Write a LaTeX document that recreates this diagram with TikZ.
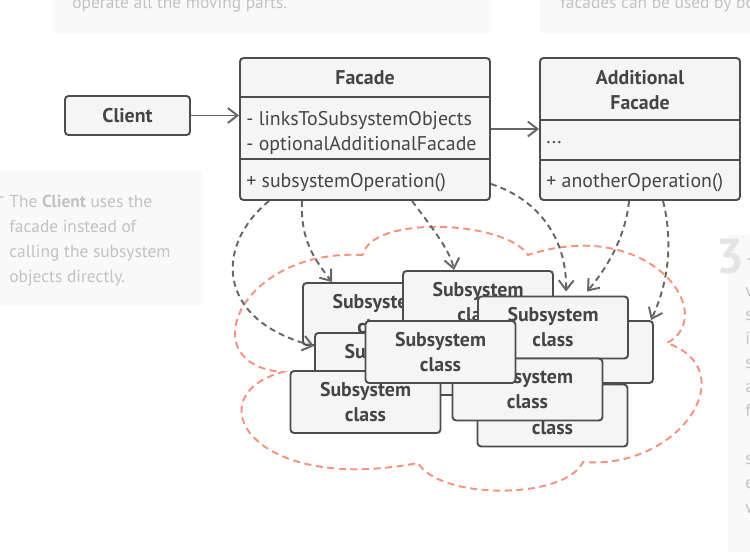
\documentclass[tikz,border=0pt]{standalone}
\usepackage{fontspec}
\setsansfont{PT Sans}
\usepackage{tikz}
\usetikzlibrary{arrows.meta,calc,positioning}
\definecolor{fcdLine}{HTML}{4D4D4D}
\definecolor{fcdFill}{HTML}{F5F5F5}
\definecolor{fcdText}{HTML}{454545}
\definecolor{fcdArrow}{HTML}{666666}
\definecolor{fcdCloud}{HTML}{F8907E}
\definecolor{fcdPanel}{HTML}{F9F9F9}
\definecolor{fcdFaint}{HTML}{C2C2C2}
\definecolor{fcdDigit}{HTML}{E4E4E4}

\begin{document}
\begin{tikzpicture}[x=0.02cm,y=-0.02cm,>=Latex,font=\sffamily]
  \tikzset{
    box/.style={draw=fcdLine,fill=fcdFill,line width=1.1pt,rounded corners=2pt,inner sep=0pt},
    classname/.style={font=\sffamily\bfseries\fontsize{11.3}{14.2}\selectfont,text=fcdText,align=center},
    member/.style={font=\sffamily\fontsize{11.3}{14.2}\selectfont,text=fcdText,anchor=west,inner sep=0pt,align=left},
    subsys/.style={box,minimum width=3cm,minimum height=1.24cm,classname},
    divider/.style={draw=fcdLine,line width=1.1pt},
    assoc/.style={draw=fcdArrow,line width=1.1pt,-{Straight Barb[length=5.5pt,width=8.5pt]}},
    uses/.style={assoc,dash pattern=on 3.4pt off 2.4pt},
    cloud/.style={draw=fcdCloud,line width=1.1pt,dash pattern=on 4pt off 2.6pt},
    panel/.style={fill=fcdPanel,draw=none},
    faint/.style={font=\sffamily\fontsize{9.9}{14.2}\selectfont,text=fcdFaint,inner sep=0pt,anchor=base west,align=left}
  }
  \clip (0,0) rectangle (750,552);
  % faded notes round the diagram
  \fill[panel] (53,0) rectangle (490,33);
  \node[faint] (noteOne) at (72,8) {operate all the moving parts.};
  \fill[panel] (540,0) rectangle (750,33);
  \node[faint] (noteFour) at (560,8) {facades can be used by bo};
  \fill[panel] (0,170) rectangle (202,305);
  \node[faint,anchor=base east] (noteTwoDash) at (6,202) {--};
  \node[faint] (noteTwo) at (9,282) {The \textbf{Client} uses the\\facade instead of\\calling the subsystem\\objects directly.};
  \fill[panel] (728,235) rectangle (750,552);
  \node[faint,font=\sffamily\bfseries\fontsize{28}{30}\selectfont,text=fcdDigit] (noteThreeNum) at (716,273) {3};
  \node[faint] (noteThreeDash) at (745,264) {--};
  \node[faint,font=\sffamily\fontsize{9.9}{13.7}\selectfont] (noteThree) at (745,513) {v\\s\\i\\s\\a\\f\\[\baselineskip]s\\e\\v};
  % subsystem boundary
  \draw[cloud] (363,255) .. controls (240,248) and (190,365) .. (283,372)
    .. controls (195,395) and (250,495) .. (418,463)
    .. controls (440,500) and (565,500) .. (583,462)
    .. controls (680,470) and (745,370) .. (667,343)
    .. controls (720,315) and (650,215) .. (528,255)
    .. controls (505,220) and (370,215) .. cycle;
  % client and facades
  \node[box,minimum width=2.5cm,minimum height=.78cm,classname] (client) at (127.5,115.5) {Client};
  \node[box,minimum width=5cm,minimum height=2.84cm] (facade) at (365,129) {};
  \draw[divider] ($(facade.north west)+(0,40)$) -- ($(facade.north east)+(0,40)$);
  \draw[divider] ($(facade.north west)+(0,102)$) -- ($(facade.north east)+(0,102)$);
  \node[classname] (facadeName) at (365,78) {Facade};
  \node[member] (facadeFields) at (246,132.5) {- linksToSubsystemObjects\\- optionalAdditionalFacade};
  \node[member] (facadeOps) at (246,183) {+ subsystemOperation()};
  \node[box,minimum width=4cm,minimum height=2.84cm] (addl) at (640,129) {};
  \draw[divider] ($(addl.north west)+(0,63)$) -- ($(addl.north east)+(0,63)$);
  \draw[divider] ($(addl.north west)+(0,103)$) -- ($(addl.north east)+(0,103)$);
  \node[classname] (addlName) at (640,90.5) {Additional\\Facade};
  \node[member] (addlFields) at (546,143) {...};
  \node[member] (addlOps) at (546,183) {+ anotherOperation()};
  % subsystem classes, back to front
  \node[subsys] (sub1) at (378,314) {Subsystem\\class};
  \node[subsys] (sub2) at (478,302) {Subsystem\\class};
  \node[subsys] (sub3) at (390,364) {Subsystem\\class};
  \node[subsys] (sub5) at (578,352) {Subsystem\\class};
  \node[subsys] (sub6) at (552.5,415.5) {Subsystem\\class};
  \node[subsys] (sub8) at (553,327.5) {Subsystem\\class};
  \node[subsys] (sub4) at (365.5,402) {Subsystem\\class};
  \node[subsys] (sub7) at (527.5,389.5) {Subsystem\\class};
  \node[subsys] (sub9) at (440.5,352) {Subsystem\\class};
  % links
  \draw[assoc] (client.east) -- (client.east -| facade.west);
  \draw[assoc] (facade.east) -- (addl.west);
  \draw[uses] ($(facade.south west)+(30,0)$) .. controls (215,245) and (215,320) .. ($(sub3.north west)+(0,14)$);
  \draw[uses] ($(facade.south west)+(63,0)$) .. controls (300,240) and (315,260) .. ($(sub1.north west)+(30,0)$);
  \draw[uses] ($(facade.south west)+(173,0)$) .. controls (430,225) and (450,250) .. ($(sub2.north west)+(52,0)$);
  \draw[uses] ($(facade.south east)+(0,-17)$) .. controls (540,200) and (567,240) .. ($(sub8.north west)+(89,-4)$);
  \draw[uses] ($(addl.south west)+(90,0)$) .. controls (625,240) and (605,270) .. ($(sub8.north west)+(110,-4)$);
  \draw[uses] ($(addl.south west)+(124,0)$) .. controls (675,250) and (665,290) .. ($(sub5.north east)+(-3,0)$);
\end{tikzpicture}
\end{document}
